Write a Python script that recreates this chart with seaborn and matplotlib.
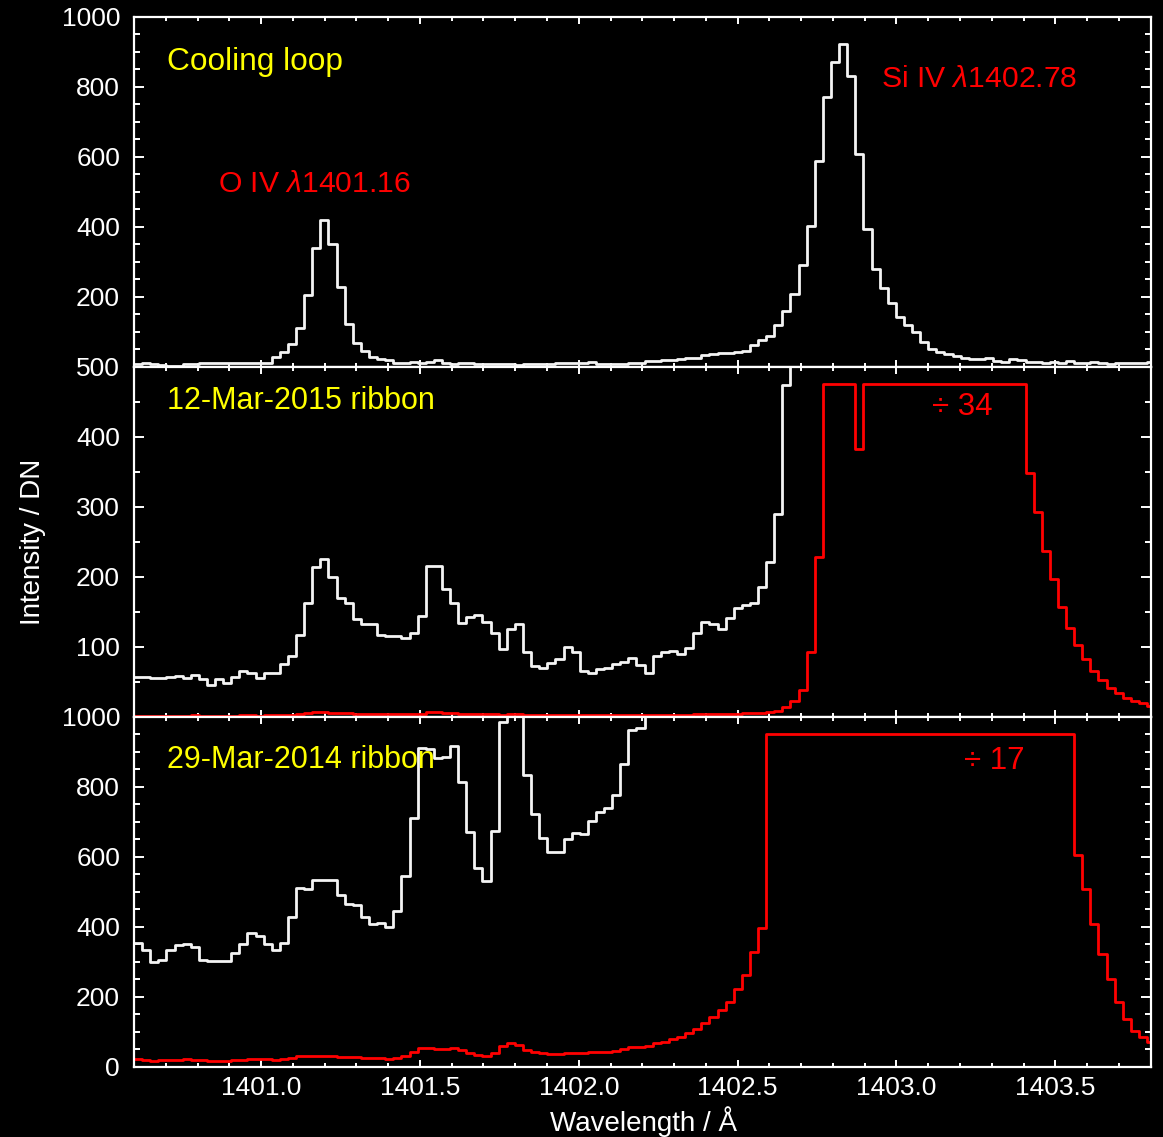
import numpy as np
import pandas as pd
import matplotlib
matplotlib.use("Agg")
import matplotlib.pyplot as plt
from matplotlib.ticker import MultipleLocator
import seaborn as sns

# Binned FUV spectral grid: first bin edge and width per pixel (Angstrom)
WAVE_START = 1400.600
DISPERSION = 0.02551

# Intensities (DN) per spectral bin
cooling_loop = [
    7, 10, 8, 5, 2, 2, 7, 7, 10, 12, 12, 10, 11, 10, 10, 10,
    12, 29, 42, 64, 111, 205, 340, 419, 351, 229, 121, 69, 45, 29, 22, 19, 12, 10, 14,
    11, 14, 18, 10, 9, 11, 10, 7, 8, 8, 7, 8, 6, 8,
    8, 8, 9, 11, 11, 11, 12, 14, 9, 9, 8, 8, 11, 11, 15, 16, 19, 20, 22,
    24, 24, 33, 36, 38, 40, 42, 46, 62, 76, 88, 119, 160, 208, 290, 403, 588, 770, 871, 922, 830,
    609, 393, 278, 226, 181, 141, 118, 99, 71, 52, 43, 36, 30,
    24, 22, 22, 26, 17, 14, 22, 19, 14, 14, 12, 14, 12, 16, 12, 10, 14, 11, 8, 11, 11, 10, 11, 13,
]

ribbon_2015 = [
    57, 57, 55, 56, 57, 58, 56, 60, 54, 45, 54, 48, 57, 65, 62, 55, 63, 62, 75, 87,
    117, 163, 214, 226, 200, 169, 162, 139, 133, 133, 117, 116, 116, 113, 120, 144, 215, 215, 183, 163,
    134, 143, 146, 136, 119, 97, 126, 132, 93, 73, 70, 77, 82, 100, 93, 66, 62, 68, 69, 75,
    78, 84, 74, 63, 87, 92, 94, 90, 98, 119, 135, 132, 125, 141, 156, 159, 162, 186, 221, 290, 474,
    782, 1292, 3128, 7752,
    16150, 16150, 16150, 16150,
    12988,
    16150, 16150, 16150, 16150, 16150, 16150, 16150, 16150, 16150, 16150,
    16150, 16150, 16150, 16150, 16150, 16150, 16150, 16150, 16150, 16150,
    11832, 9928, 8058, 6698, 5338, 4318, 3502, 2788, 2244, 1768, 1394, 1156, 918, 782, 646, 510,
]

ribbon_2014 = [
    354, 333, 298, 305, 333, 348, 352, 341, 305, 302, 302, 302, 324, 350, 381, 374, 352, 333, 354, 429,
    512, 508, 533, 533, 533, 490, 464, 462, 427, 407, 410, 398, 446, 545, 711, 910, 907, 881, 884, 916,
    814, 670, 567, 531, 674, 986, 1139, 1054, 833, 722, 654, 614, 614, 650, 667, 664, 702, 727, 738,
    776, 864, 962, 967,
    1020, 1139, 1207, 1326, 1462, 1649, 1836, 2108, 2431, 2754, 3162, 3774, 4454, 5559, 6715,
    16150, 16150, 16150, 16150, 16150, 16150, 16150, 16150, 16150, 16150,
    16150, 16150, 16150, 16150, 16150, 16150, 16150, 16150, 16150, 16150,
    16150, 16150, 16150, 16150, 16150, 16150, 16150, 16150, 16150, 16150,
    16150, 16150, 16150, 16150, 16150, 16150, 16150, 16150,
    10285, 8636, 6936, 5474, 4284, 3162, 2295, 1751, 1462, 1207,
]

SCALE_2015 = 34
SCALE_2014 = 17

panel_titles = ["Cooling loop", "12-Mar-2015 ribbon", "29-Mar-2014 ribbon"]
panel_ymax = [1000, 500, 1000]
panel_ystep = [200, 100, 200]
x_ticks = [1401.0, 1401.5, 1402.0, 1402.5, 1403.0, 1403.5]

n_bins = len(cooling_loop)
bin_range = (WAVE_START, WAVE_START + n_bins * DISPERSION)
centers = WAVE_START + DISPERSION * (np.arange(n_bins) + 0.5)

sns.set_theme(style="ticks")
plt.rcParams.update({
    "font.family": ["Liberation Sans", "DejaVu Sans"],
    "mathtext.fontset": "custom",
    "mathtext.it": "Liberation Sans:italic",
    "mathtext.rm": "Liberation Sans",
    "figure.facecolor": "black",
    "axes.facecolor": "black",
    "axes.edgecolor": "white",
    "axes.linewidth": 1.6,
    "text.color": "white",
    "xtick.color": "white",
    "ytick.color": "white",
})

WHITE = "#f4f4f4"
RED = "#ff0000"
YELLOW = "#ffff00"

fig = plt.figure(figsize=(11.63, 11.37), dpi=100)
left, right, bottom, top = 0.1152, 0.9894, 0.0618, 0.9853
h = (top - bottom) / 3
axes = [fig.add_axes([left, top - (i + 1) * h, right - left, h]) for i in range(3)]


def step(ax, values, color):
    df = pd.DataFrame({"wave": centers, "dn": np.asarray(values, dtype=float)})
    sns.histplot(data=df, x="wave", weights="dn", bins=n_bins, binrange=bin_range,
                 element="step", fill=False, color=color, linewidth=2.0, ax=ax)


step(axes[0], cooling_loop, WHITE)
step(axes[1], ribbon_2015, WHITE)
step(axes[1], np.asarray(ribbon_2015) / SCALE_2015, RED)
step(axes[2], ribbon_2014, WHITE)
step(axes[2], np.asarray(ribbon_2014) / SCALE_2014, RED)

for i, ax in enumerate(axes):
    ymax = panel_ymax[i]
    ax.set_xlim(1400.6, 1403.8)
    ax.set_ylim(0, ymax)
    ticks = np.arange(0, ymax + 1, panel_ystep[i])
    ax.set_yticks(ticks)
    labels = [str(int(t)) for t in ticks]
    if i < 2:
        labels[0] = ""
    ax.set_yticklabels(labels)
    ax.yaxis.set_minor_locator(MultipleLocator(50))
    ax.set_xticks(x_ticks)
    ax.xaxis.set_minor_locator(MultipleLocator(0.1))
    ax.tick_params(axis="both", which="both", direction="in", top=True, right=True,
                   colors="white", labelsize=19, width=1.4)
    ax.tick_params(axis="x", which="major", length=5, pad=7)
    ax.tick_params(axis="x", which="minor", length=2.6)
    ax.tick_params(axis="y", which="major", length=7.5, pad=10)
    ax.tick_params(axis="y", which="minor", length=4)
    ax.set_ylabel("")
    ax.set_xlabel("")
    for sp in ax.spines.values():
        sp.set_color("white")
        sp.set_linewidth(1.6)
    if i < 2:
        ax.tick_params(axis="x", labelbottom=False)
    else:
        ax.set_xticklabels([f"{t:.1f}" for t in x_ticks])

title_pos = [(0.0325, 0.848), (0.0325, 0.880), (0.0325, 0.8526)]
title_size = [22.8, 22, 22]
for ax, title, (tx, ty), fs in zip(axes, panel_titles, title_pos, title_size):
    ax.text(tx, ty, title, transform=ax.transAxes, color=YELLOW, fontsize=fs,
            ha="left", va="baseline")

axes[0].text(0.0826, 0.500, r"O IV $\mathit{\lambda}$1401.16", transform=axes[0].transAxes,
             color=RED, fontsize=21.7, ha="left", va="baseline")
axes[0].text(0.7347, 0.798, r"Si IV $\mathit{\lambda}$1402.78", transform=axes[0].transAxes,
             color=RED, fontsize=21.7, ha="left", va="baseline")
axes[1].text(0.7846, 0.862, f"\u00f7 {SCALE_2015}", transform=axes[1].transAxes,
             color=RED, fontsize=22.5, ha="left", va="baseline")
axes[2].text(0.8164, 0.8506, f"\u00f7 {SCALE_2014}", transform=axes[2].transAxes,
             color=RED, fontsize=22.5, ha="left", va="baseline")

fig.text(33 / 1163, 1 - 542 / 1137, "Intensity / DN", rotation=90, color="white",
         fontsize=20, ha="center", va="center")
fig.text(643 / 1163, 1 - 1122 / 1137, "Wavelength / \u00c5", color="white",
         fontsize=20, ha="center", va="center")

fig.savefig("out.png", dpi=100, facecolor="black")
